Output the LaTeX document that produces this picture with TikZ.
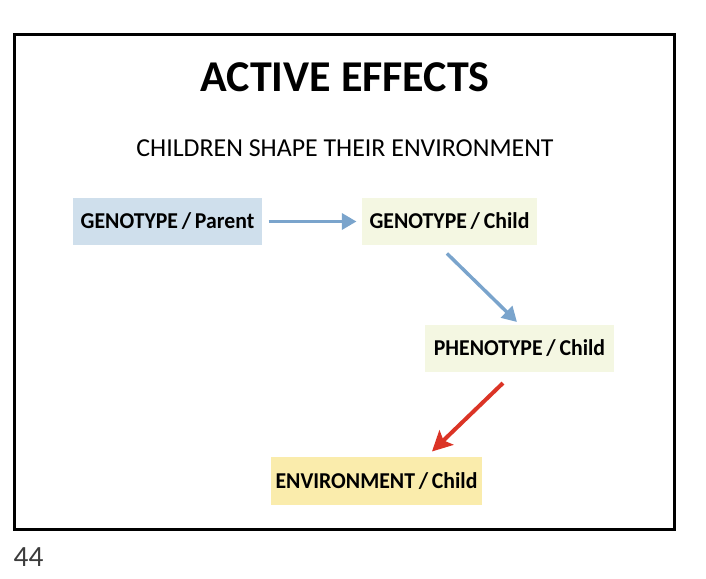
\documentclass[tikz,border=0pt]{standalone}
\usepackage{fontspec}
\setmainfont{Carlito}
\newfontfamily\boxfont[FakeStretch=0.96]{Carlito}
\usetikzlibrary{arrows.meta}
\definecolor{parentblue}{RGB}{207,223,236}
\definecolor{childgreen}{RGB}{244,247,226}
\definecolor{envyellow}{RGB}{250,236,172}
\definecolor{arrowblue}{RGB}{122,164,204}
\definecolor{arrowred}{RGB}{219,52,38}
\definecolor{pagegrey}{RGB}{60,60,60}
\tikzset{every picture/.style={line width=0.75pt}}
\tikzset{
  box/.style={inner sep=0pt, font=\boxfont\fontsize{17}{19}\selectfont\bfseries},
  link/.style={line width=2.6pt, -{Triangle[length=11pt,width=12pt]}},
  redlink/.style={line width=3pt, -{Stealth[length=15pt,width=15pt,inset=3pt]}}
}

\begin{document}
\begin{tikzpicture}[x=0.75pt,y=0.75pt,yscale=-1,xscale=1]
	\useasboundingbox (0,0) rectangle (706,578);

	%Shape: Frame
	\draw [line width=2.25pt]  (14.5,34.5) rectangle (674.5,529.5) ;

	% Text Node
	\node (title) at (345,77) {\fontsize{33}{36}\selectfont\bfseries ACTIVE EFFECTS};
	% Text Node
	\node (subtitle) at (345,148) {\fontsize{19.4}{22}\selectfont CHILDREN SHAPE THEIR ENVIRONMENT};

	% Boxes
	\node (gparent) at (167.5,221.5) [box, fill=parentblue, minimum width=141.75pt, minimum height=35.25pt] {GENOTYPE\,/\,Parent};
	\node (gchild) at (449.5,221.5) [box, fill=childgreen, minimum width=131.25pt, minimum height=35.25pt] {GENOTYPE\,/\,Child};
	\node (pchild) at (519.5,348.5) [box, fill=childgreen, minimum width=141.75pt, minimum height=35.25pt] {PHENOTYPE\,/\,Child};
	\node (echild) at (376.5,481) [box, fill=envyellow, minimum width=158.25pt, minimum height=36pt] {ENVIRONMENT\,/\,Child};

	% Connectors
	\draw [link, arrowblue] ([xshift=4.5pt]gparent.east) -- ([xshift=-3.75pt]gchild.west) ;
	\draw [link, arrowblue] ([xshift=-1.9pt,yshift=6pt]gchild.south) -- ([xshift=-1.9pt,yshift=-1.9pt]pchild.north) ;
	\draw [redlink, arrowred] ([xshift=-12.4pt,yshift=7.9pt]pchild.south) -- ([xshift=41.6pt,yshift=-3.75pt]echild.north) ;

	% Text Node
	\node (pagenum) at (28.5,557) {\fontsize{22}{26}\selectfont\color{pagegrey} 44};

\end{tikzpicture}
\end{document}
